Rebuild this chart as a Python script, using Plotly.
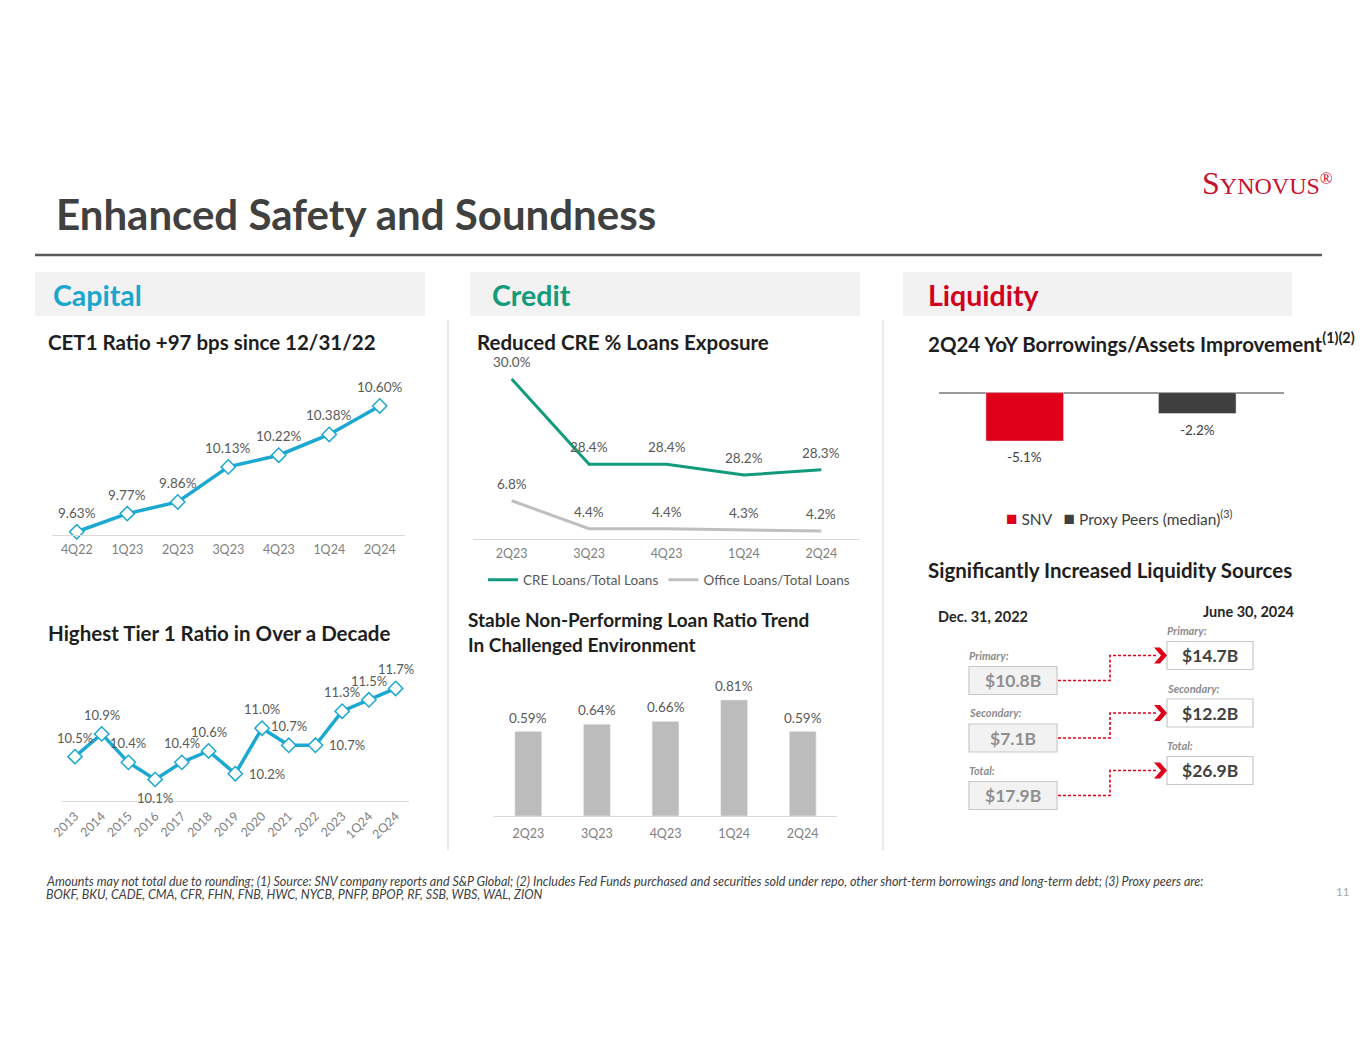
import plotly.graph_objects as go

W, H = 1365, 1055
def X(px): return px / W
def Y(py): return 1 - py / H

# ---------------- data ----------------
cet1_q = ["4Q22", "1Q23", "2Q23", "3Q23", "4Q23", "1Q24", "2Q24"]
cet1_v = [9.63, 9.77, 9.86, 10.13, 10.22, 10.38, 10.60]

tier1_p = ["2013", "2014", "2015", "2016", "2017", "2018", "2019", "2020",
           "2021", "2022", "2023", "1Q24", "2Q24"]
tier1_v = [10.5, 10.9, 10.4, 10.1, 10.4, 10.6, 10.2, 11.0, 10.7, 10.7, 11.3, 11.5, 11.7]
tier1_pos = ["top", "top", "top", "bottom", "top", "top", "right", "top",
             "top", "right", "top", "top", "top"]

cre_q = ["2Q23", "3Q23", "4Q23", "1Q24", "2Q24"]
cre_v = [30.0, 28.4, 28.4, 28.2, 28.3]
office_v = [6.8, 4.4, 4.4, 4.3, 4.2]

npl_q = ["2Q23", "3Q23", "4Q23", "1Q24", "2Q24"]
npl_v = [0.59, 0.64, 0.66, 0.81, 0.59]

borrow_names = ["SNV", "Proxy Peers (median)"]
borrow_v = [-5.1, -2.2]

liq_labels = ["Primary:", "Secondary:", "Total:"]
liq_2022 = [10.8, 7.1, 17.9]
liq_2024 = [14.7, 12.2, 26.9]

# ---------------- styles ----------------
FONT = "Lato"
CYAN = "#1ba8d1"
GREEN = "#119b7c"
RED = "#e1001a"
DARK = "#404040"
LABEL = "#595959"
TICK = "#7f7f7f"
BORROW_COLORS = [RED, "#3f3f3f"]

fig = go.Figure()
ann = []
shapes = []

# Chart 1: CET1
fig.add_trace(go.Scatter(
    x=cet1_q, y=cet1_v, mode="lines+markers",
    line=dict(color=CYAN, width=3.5),
    marker=dict(symbol="diamond", size=11, color="white", line=dict(color=CYAN, width=1.5)),
    xaxis="x", yaxis="y", showlegend=False, cliponaxis=False))
for i, v in enumerate(cet1_v):
    ann.append(dict(x=i, y=v, xref="x", yref="y", text=f"{v:.2f}%", showarrow=False,
                    yshift=19, font=dict(family=FONT, size=13.5, color=LABEL)))

# Chart 2: Tier 1
fig.add_trace(go.Scatter(
    x=tier1_p, y=tier1_v, mode="lines+markers",
    line=dict(color=CYAN, width=3.5),
    marker=dict(symbol="diamond", size=11, color="white", line=dict(color=CYAN, width=1.5)),
    xaxis="x2", yaxis="y2", showlegend=False, cliponaxis=False))
OFFS = {"top": (0, 19), "bottom": (0, -19), "right": (32, 0)}
for i, (v, pos) in enumerate(zip(tier1_v, tier1_pos)):
    dx, dy = OFFS[pos]
    ann.append(dict(x=i, y=v, xref="x2", yref="y2", text=f"{v:.1f}%", showarrow=False,
                    xshift=dx, yshift=dy, font=dict(family=FONT, size=13, color=LABEL)))

# Chart 3: CRE / office
fig.add_trace(go.Scatter(
    x=cre_q, y=cre_v, mode="lines", name="CRE Loans/Total Loans",
    line=dict(color=GREEN, width=3), xaxis="x3", yaxis="y3",
    legend="legend", cliponaxis=False))
fig.add_trace(go.Scatter(
    x=cre_q, y=office_v, mode="lines", name="Office Loans/Total Loans",
    line=dict(color="#bfbfbf", width=3), xaxis="x3", yaxis="y4",
    legend="legend", cliponaxis=False))
for i, v in enumerate(cre_v):
    ann.append(dict(x=i, y=v, xref="x3", yref="y3", text=f"{v:.1f}%", showarrow=False,
                    yshift=17, font=dict(family=FONT, size=13.5, color=LABEL)))
for i, v in enumerate(office_v):
    ann.append(dict(x=i, y=v, xref="x3", yref="y4", text=f"{v:.1f}%", showarrow=False,
                    yshift=17, font=dict(family=FONT, size=13.5, color=LABEL)))

# Chart 4: NPL
fig.add_trace(go.Bar(
    x=npl_q, y=npl_v, width=0.39, marker=dict(color="#bcbcbc"),
    xaxis="x5", yaxis="y5", showlegend=False, cliponaxis=False))
for i, v in enumerate(npl_v):
    ann.append(dict(x=i, y=v, xref="x5", yref="y5", text=f"{v:.2f}%", showarrow=False,
                    yshift=14, font=dict(family=FONT, size=13.5, color=LABEL)))

# Chart 5: borrowings
for i, (name, v, c) in enumerate(zip(borrow_names, borrow_v, BORROW_COLORS)):
    fig.add_trace(go.Bar(
        x=[name], y=[v], width=0.45, marker=dict(color=c), name=name,
        xaxis="x6", yaxis="y6", showlegend=False, cliponaxis=False))
    ann.append(dict(x=i, y=v, xref="x6", yref="y6", text=f"{v:.1f}%", showarrow=False,
                    yshift=-16, font=dict(family=FONT, size=13.5, color=DARK)))
leg_txt = "   ".join(
    f"<span style='color:{c};font-size:19px'>■</span> {n}"
    + ("<sup>(3)</sup>" if n.startswith("Proxy") else "")
    for n, c in zip(borrow_names, BORROW_COLORS))
ann.append(dict(x=X(1119), y=Y(517), xref="paper", yref="paper", text=leg_txt,
                showarrow=False, xanchor="center", yanchor="middle",
                font=dict(family=FONT, size=15.5, color=DARK)))

hidden_y = dict(showgrid=False, zeroline=False, showticklabels=False, showline=False,
                ticks="", automargin=False)
def xax(domain, angle=0, standoff=3):
    return dict(domain=[X(domain[0]), X(domain[1])], showgrid=False, zeroline=False,
                showline=True, linecolor="#d9d9d9", linewidth=1, ticks="",
                tickfont=dict(family=FONT, size=12.5, color=TICK), tickangle=angle,
                type="category", automargin=False, ticklabelstandoff=standoff)

fig.update_layout(
    width=W, height=H, margin=dict(l=0, r=0, t=0, b=0, autoexpand=False),
    paper_bgcolor="white", plot_bgcolor="rgba(0,0,0,0)",
    barmode="overlay",
    font=dict(family=FONT, color=DARK),
    xaxis=dict(xax((51.5, 405), 0, 3), anchor="y", range=[-0.5, 6.5]),
    yaxis=dict(hidden_y, domain=[Y(535), Y(380)], range=[9.605, 10.80], anchor="x"),
    xaxis2=dict(xax((61.6, 409), -45, 2), anchor="y2", range=[-0.5, 12.5]),
    yaxis2=dict(hidden_y, domain=[Y(801), Y(660)], range=[9.72, 12.2], anchor="x2"),
    xaxis3=dict(xax((473, 860), 0, 3), anchor="y3", range=[-0.5, 4.5]),
    yaxis3=dict(hidden_y, domain=[Y(539), Y(370)], range=[27.0, 30.17], anchor="x3"),
    yaxis4=dict(hidden_y, domain=[Y(539), Y(370)], range=[3.52, 18.0], overlaying="y3", anchor="x3"),
    xaxis5=dict(xax((494, 837), 0, 6), anchor="y5", range=[-0.5, 4.5]),
    yaxis5=dict(hidden_y, domain=[Y(816), Y(650)], range=[0, 1.159], anchor="x5"),
    xaxis6=dict(domain=[X(938.5), X(1283.5)], anchor="y6", type="category",
                range=[-0.5, 1.5], showgrid=False, zeroline=False, showline=False,
                showticklabels=False, ticks="", automargin=False),
    yaxis6=dict(domain=[Y(480), Y(385)], range=[-9.2, 0.8], anchor="x6",
                showgrid=False, showticklabels=False, ticks="", showline=False,
                zeroline=True, zerolinecolor="#9a9a9a", zerolinewidth=1.5, automargin=False),
    legend=dict(orientation="h", x=X(483), y=Y(580), xanchor="left", yanchor="middle",
                font=dict(family=FONT, size=13.5, color=LABEL), bgcolor="rgba(0,0,0,0)",
                itemwidth=30, tracegroupgap=0),
)

def text(x, y, s, size, color=DARK, xanchor="left", family=FONT, yanchor="middle"):
    ann.append(dict(x=X(x), y=Y(y), xref="paper", yref="paper", text=s, showarrow=False,
                    xanchor=xanchor, yanchor=yanchor, align="left",
                    font=dict(family=family, size=size, color=color)))

# header
text(54, 214, "<b>Enhanced Safety and Soundness</b>", 42, "#404040")
shapes.append(dict(type="line", xref="paper", yref="paper", x0=X(35), x1=X(1322),
                   y0=Y(255), y1=Y(255), line=dict(color="#595959", width=2.5)))
# logo
text(1200, 183, "<span style='font-size:32px'>S</span>YNOVUS<sup>®</sup>", 24, "#c8102e",
     family="Liberation Serif")

# section bars
for (x0, x1, label, col, tx) in [(35, 425, "Capital", "#1aa6cf", 51),
                                 (470, 860, "Credit", "#129c7c", 490),
                                 (903, 1292, "Liquidity", "#d2001c", 926)]:
    shapes.append(dict(type="rect", xref="paper", yref="paper", x0=X(x0), x1=X(x1),
                       y0=Y(316), y1=Y(272), fillcolor="#f2f2f2", line=dict(width=0),
                       layer="below"))
    text(tx, 295, f"<b>{label}</b>", 28.5, col)

# separators
for sx in (448, 883):
    shapes.append(dict(type="line", xref="paper", yref="paper", x0=X(sx), x1=X(sx),
                       y0=Y(320), y1=Y(850), line=dict(color="#e3e3e3", width=1.5)))

# chart titles
TT = "#1e1e1e"
text(46, 342, "<b>CET1 Ratio +97 bps since 12/31/22</b>", 20.5, TT)
text(46, 633, "<b>Highest Tier 1 Ratio in Over a Decade</b>", 20.5, TT)
text(475, 342, "<b>Reduced CRE % Loans Exposure</b>", 20.5, TT)
text(466, 632, "<b>Stable Non-Performing Loan Ratio Trend<br>In Challenged Environment</b>", 19, TT)
text(926, 342, "<b>2Q24 YoY Borrowings/Assets Improvement<sup>(1)(2)</sup></b>", 20.5, TT)
text(926, 570, "<b>Significantly Increased Liquidity Sources</b>", 20.5, TT)

# liquidity sources
text(936, 616, "<b>Dec. 31, 2022</b>", 14.5, "#262626")
text(1201, 611, "<b>June 30, 2024</b>", 14.5, "#262626")
LX0, LX1 = 969, 1057
RX0, RX1 = 1167, 1253
MIDX = 1110
for i, (lab, a, b) in enumerate(zip(liq_labels, liq_2022, liq_2024)):
    lc = 680.5 + 57.5 * i
    rc = 655.5 + 57.5 * i
    shapes.append(dict(type="rect", xref="paper", yref="paper", x0=X(LX0), x1=X(LX1),
                       y0=Y(lc + 14), y1=Y(lc - 14), fillcolor="#f2f2f2",
                       line=dict(color="#c8c8c8", width=1.2)))
    shapes.append(dict(type="rect", xref="paper", yref="paper", x0=X(RX0), x1=X(RX1),
                       y0=Y(rc + 14), y1=Y(rc - 14), fillcolor="white",
                       line=dict(color="#c8c8c8", width=1.2)))
    text((LX0 + LX1) / 2, lc, f"<b>${a:.1f}B</b>", 17.5, "#8f8f8f", xanchor="center")
    text((RX0 + RX1) / 2, rc, f"<b>${b:.1f}B</b>", 17.5, DARK, xanchor="center")
    text(967, lc - 25.5, f"<b><i>{lab}</i></b>", 11, "#8c8c8c")
    text(1165, rc - 25, f"<b><i>{lab}</i></b>", 11, "#8c8c8c")
    path = (f"M {X(LX1 + 1)},{Y(lc)} L {X(MIDX)},{Y(lc)} L {X(MIDX)},{Y(rc)} "
            f"L {X(RX0 - 11)},{Y(rc)}")
    shapes.append(dict(type="path", xref="paper", yref="paper", path=path,
                       line=dict(color=RED, width=1.6, dash="3px,2px")))
    chev = (f"M {X(RX0 - 13)},{Y(rc - 8)} L {X(RX0 - 7)},{Y(rc - 8)} L {X(RX0)},{Y(rc)} "
            f"L {X(RX0 - 7)},{Y(rc + 8)} L {X(RX0 - 13)},{Y(rc + 8)} L {X(RX0 - 6)},{Y(rc)} Z")
    shapes.append(dict(type="path", xref="paper", yref="paper", path=chev,
                       fillcolor=RED, line=dict(width=0)))

# footnote
text(44, 881, "<i>Amounts may not total due to rounding; (1) Source: SNV company reports and S&P Global; "
     "(2) Includes Fed Funds purchased and securities sold under repo, other short-term borrowings "
     "and long-term debt; (3) Proxy peers are:</i>", 12.5, DARK)
text(44, 894, "<i>BOKF, BKU, CADE, CMA, CFR, FHN, FNB, HWC, NYCB, PNFP, BPOP, RF, SSB, WBS, WAL, ZION</i>",
     12.5, DARK)
text(1334, 891, "11", 11.5, "#a6a6a6")

fig.update_layout(shapes=shapes, annotations=ann)

fig.write_html("out.html", config={"displayModeBar": False},
               post_script="document.body.style.margin='0';")
